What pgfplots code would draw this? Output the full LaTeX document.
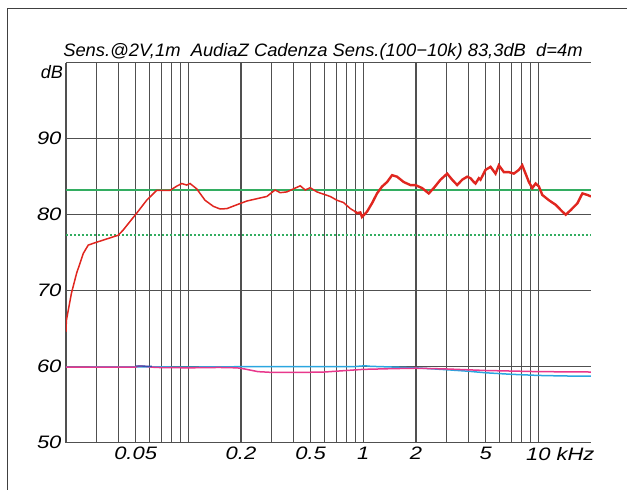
\documentclass[border=0pt]{standalone}
\usepackage{pgfplots}
\pgfplotsset{compat=1.18}
\usetikzlibrary{calc}
\usepackage{fontspec}
\setmainfont{Liberation Sans}
\definecolor{cred}{HTML}{E0261F}
\definecolor{mygreen}{rgb}{0.2,0.68,0.38}
\definecolor{cblue}{HTML}{2AA6E0}
\definecolor{cnavy}{HTML}{3050B0}
\definecolor{cpink}{HTML}{E8388C}
\definecolor{cgrid}{HTML}{505050}
\newcommand\sx[1]{\scalebox{1.22}[1]{#1}}
\begin{document}
\begin{tikzpicture}[font=\itshape\fontsize{18}{21}\selectfont]
\begin{axis}[name=ax, at={(0,0)}, anchor=south west,
  scale only axis, width=525pt, height=380pt,
  xmode=log, xmin=0.02, xmax=20, ymin=50, ymax=100,
  axis line style={draw=none},
  xtick={0.05,0.2,0.5,1,2,5,10},
  xticklabels={\sx{0.05},\sx{0.2},\sx{0.5},\sx{1},\sx{2},\sx{5},{\sx{10}\rlap{\sx{ kHz}}}},
  minor xtick={0.02,0.03,0.04,0.06,0.07,0.08,0.09,0.1,0.3,0.4,0.6,0.7,0.8,0.9,3,4,6,7,8,9},
  ytick={50,60,70,80,90,100},
  yticklabels={\sx{50},\sx{60},\sx{70},\sx{80},\sx{90},{}},
  major tick length=0pt, minor tick length=0pt,
  grid=both,
  major grid style={cgrid, line width=1.3pt},
  minor grid style={cgrid, line width=1.3pt},
  tick label style={font=\itshape\fontsize{18}{21}\selectfont},
  xticklabel style={yshift=-1pt},
  yticklabel style={xshift=-1pt},
  clip=true,
]
% reference lines
\addplot[draw=mygreen, line width=1.8pt] coordinates {(0.02,83.3) (1,83.3) (20,83.3)};
\addplot[draw=mygreen, line width=1.6pt, dash pattern=on 2pt off 2pt] coordinates {(0.02,77.3) (1,77.3) (20,77.3)};
% blue
\addplot[draw=cblue, line width=1.5pt] coordinates {
(0.02,59.95) (0.05,59.98) (0.1,59.95) (0.2,60.0) (0.5,60.0) (0.9,60.02) (1.02,60.12) (1.1,60.05)
(1.5,59.95) (2,59.85) (3,59.6) (4,59.4) (5,59.2) (7,59.0) (10,58.85) (14,58.78) (20,58.75)};
% pink
\addplot[draw=cpink, line width=1.5pt] coordinates {
(0.02,59.95) (0.05,59.95) (0.052,60.08) (0.056,60.05) (0.065,59.9) (0.1,59.85) (0.15,59.9)
(0.19,59.85) (0.21,59.7) (0.25,59.35) (0.3,59.25) (0.45,59.25) (0.6,59.3) (0.8,59.5)
(1.0,59.65) (1.5,59.75) (2,59.8) (3,59.7) (5,59.5) (10,59.35) (20,59.3)};
\addplot[draw=cnavy, line width=1.3pt] coordinates {(0.05,60.1) (0.062,60.05)};
% red, low frequencies
\addplot[draw=cred, line width=1.5pt] coordinates {
(0.02,64.6) (0.0201,66.1) (0.0215,69.7) (0.0230,72.3) (0.0251,74.9) (0.0268,76.0)
(0.0292,76.3) (0.0341,76.8) (0.0398,77.3) (0.0425,78.0) (0.0464,79.1) (0.0507,80.2)
(0.0578,81.9) (0.0659,83.2) (0.0786,83.2) (0.0858,83.75) (0.0917,84.1) (0.0979,83.9)
(0.1023,84.1) (0.1117,83.4) (0.1246,81.9) (0.139,81.1) (0.152,80.75) (0.166,80.8)
(0.189,81.3) (0.216,81.8) (0.246,82.1) (0.281,82.4) (0.313,83.25) (0.335,82.9)
(0.366,83.0) (0.408,83.5) (0.436,83.8) (0.466,83.25) (0.497,83.55) (0.543,83.0)
(0.592,82.7) (0.647,82.4) (0.707,81.9) (0.771,81.6) (0.843,80.8) (0.90,80.4)};
% red, high frequencies
\addplot[draw=cred, line width=2.4pt] coordinates {
(0.90,80.4) (0.920,80.2) (0.961,80.3) (0.983,79.7) (1.05,80.4) (1.121,81.5) (1.198,82.8)
(1.279,83.7) (1.367,84.3) (1.46,85.2) (1.559,85.0) (1.701,84.3) (1.858,83.9) (1.985,83.9)
(2.168,83.5) (2.365,82.8) (2.526,83.5) (2.760,84.6) (3.014,85.4) (3.22,84.6) (3.439,83.9)
(3.673,84.6) (3.923,85.0) (4.098,84.8) (4.28,84.3) (4.376,84.1) (4.571,84.8) (4.674,84.6)
(4.993,85.9) (5.333,86.3) (5.696,85.4) (5.95,86.5) (6.355,85.6) (6.787,85.6) (7.25,85.4)
(7.743,85.9) (8.097,86.5) (8.457,85.4) (8.833,84.3) (9.238,83.5) (9.65,84.1) (10.08,83.7)
(10.54,82.6) (11.5,81.9) (12.57,81.3) (13.73,80.4) (14.34,80.0) (15.31,80.6) (16.72,81.5)
(17.86,82.8) (19.08,82.6) (20,82.4)};
\end{axis}
\node[anchor=base] at ($(ax.north west)+(257pt,6pt)$) {\scalebox{1.02}[1]{Sens.@2V,1m\ \ AudiaZ Cadenza Sens.(100−10k) 83,3dB\ \ d=4m}};
\node[anchor=north east, inner sep=0pt] at ($(ax.north west)+(-3pt,-3pt)$) {dB};
\draw[black!75, line width=0.8pt] ($(ax.south west)+(-58.7pt,-60pt)$) -- ($(ax.north west)+(-58.7pt,54.4pt)$) -- ($(ax.north west)+(580pt,54.4pt)$);
\pgfresetboundingbox
\path[use as bounding box] ($(ax.south west)+(-66pt,-47.3pt)$) rectangle ($(ax.north west)+(561pt,62.7pt)$);
\end{tikzpicture}
\end{document}
